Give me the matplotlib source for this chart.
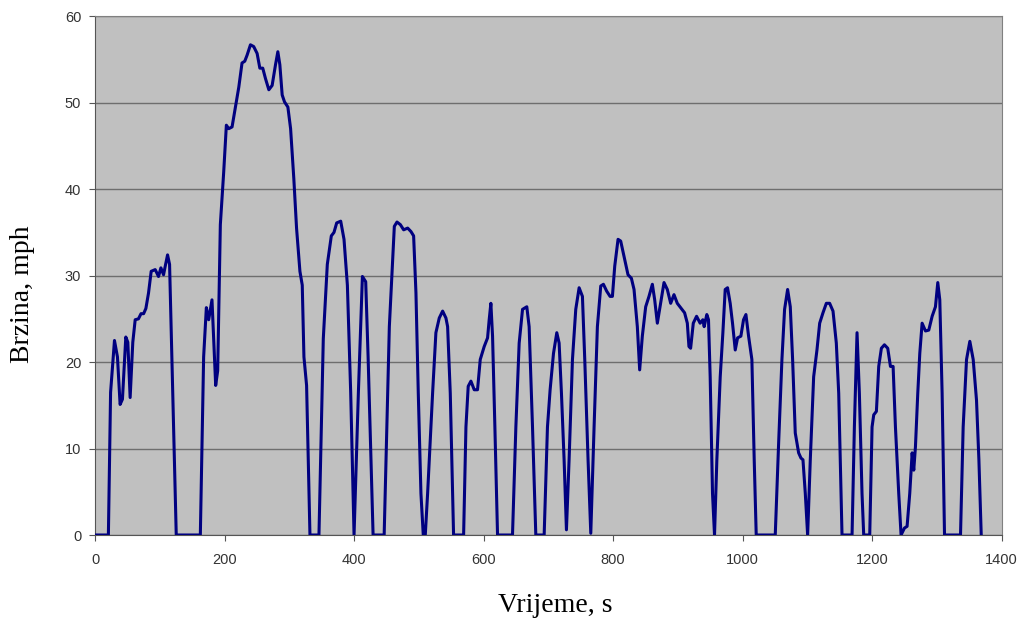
import matplotlib
matplotlib.use('Agg')
import matplotlib.pyplot as plt

# speed trace (time in s, speed in mph)
time_s = [0, 20.6, 24, 30, 34.6, 38.7, 42.3, 47.5, 50.6, 54.2, 58.3, 62, 67, 71, 75, 78.5,
          82.6, 86.7, 92.9, 98, 101.7, 105.8, 108.4, 112, 115.1, 125.4, 162.6, 167.7, 171.9,
          175.5, 178, 180.6, 183.2, 186.3, 189.4, 193.5, 198.7, 202.8, 206.5, 211.6, 216.8,
          222, 227, 231.2, 234.8, 240, 245, 250.3, 254.5, 259, 263.2, 268.4, 273.5, 278.7,
          282.3, 285.4, 289, 292.6, 297.8, 302, 307, 311.2, 316.4, 320, 322.6, 326.7, 331.9,
          345.8, 352.5, 358.7, 364.9, 369, 373.2, 379.4, 384.5, 389.7, 394.8, 400, 406.7,
          412.9, 418, 421.7, 429.4, 446.5, 454.5, 462.2, 466.3, 471.5, 476.6, 482.8, 487.9,
          492, 495.6, 499.2, 503.3, 506.9, 510, 513.6, 521.3, 526.4, 531.6, 536.8, 541.9,
          544.5, 548.6, 552.2, 553.7, 569.2, 572.8, 576.3, 580.5, 585.6, 590.7, 594.9, 601,
          606.2, 608.7, 611.3, 613.9, 617.5, 621.6, 644.7, 649.9, 655, 660.2, 666.8, 670.4,
          675.6, 680.7, 693.6, 698.7, 702.8, 708, 713.1, 716.7, 720.3, 724.4, 728, 732.1,
          737.3, 742.4, 747.6, 752.7, 756.3, 761.4, 765.6, 770.7, 775.8, 781, 785.1, 790.2,
          795.4, 799, 802.6, 807.7, 811.8, 817, 823.1, 828.3, 832.4, 837.5, 841.1, 845.2,
          850.4, 855.5, 860.7, 864.3, 868.4, 873.5, 878.7, 883.8, 889, 894.1, 899.2, 904.4,
          910.5, 914.7, 917.2, 919.8, 923.9, 929, 934.5, 938.7, 940.7, 944.8, 947.4, 950,
          953.6, 956.7, 960.3, 965.5, 969.6, 973.2, 976.8, 980.9, 984.5, 988.7, 992.3, 997.4,
          1001.5, 1005.2, 1009.3, 1014.4, 1018, 1021.1, 1050.5, 1055.7, 1060.8, 1064.9,
          1069.6, 1073.7, 1077.3, 1081.4, 1086.6, 1090.2, 1093.3, 1096.9, 1100.5, 1104.6,
          1109.8, 1114.9, 1119.1, 1124.2, 1129.4, 1134.5, 1139.7, 1144.8, 1148.5, 1152.1,
          1153.6, 1169.1, 1172.7, 1176.8, 1180.4, 1184.5, 1187.1, 1196.4, 1200, 1202.6,
          1206.7, 1210.3, 1214.4, 1219.1, 1224.2, 1228.4, 1232.5, 1236.1, 1241.2, 1244.8,
          1250, 1254.1, 1258.2, 1261.9, 1264.4, 1267, 1270.6, 1273.7, 1277.3, 1282.5, 1287.6,
          1292.8, 1297.9, 1301.5, 1304.6, 1308.2, 1311.9, 1336.6, 1340.7, 1345.9, 1351,
          1356.2, 1361.3, 1365, 1368.6]
speed_mph = [0, 0, 16.5, 22.5, 20.6, 15.1, 15.7, 22.9, 22.3, 15.9, 22.3, 24.9, 25, 25.6, 25.6,
             26.2, 28, 30.5, 30.7, 29.9, 30.9, 30.1, 31.1, 32.4, 31.3, 0, 0, 20.6, 26.3, 24.9,
             26, 27.2, 22.7, 17.3, 19, 35.9, 42, 47.4, 47, 47.2, 49.5, 51.8, 54.6, 54.8, 55.5,
             56.7, 56.5, 55.7, 54, 54, 52.8, 51.5, 52, 54.4, 55.9, 54.4, 50.9, 50.1, 49.5, 47,
             41.2, 35.5, 30.5, 28.9, 20.6, 17.3, 0, 0, 22.7, 31.3, 34.6, 35, 36.1, 36.3, 34.2,
             28.9, 16.5, 0, 16.5, 29.9, 29.3, 20.6, 0, 0, 24.1, 35.7, 36.2, 35.9, 35.3, 35.5,
             35.1, 34.6, 28, 16.4, 4.8, 0, 0, 4.8, 16.4, 23.4, 25.1, 25.9, 25.1, 24.1, 16.4,
             4.8, 0, 0, 12.5, 17.2, 17.8, 16.8, 16.8, 20.3, 21.8, 22.8, 24.9, 26.8, 23, 12.5,
             0, 0, 12.5, 22.2, 26.1, 26.4, 24.1, 12.5, 0, 0, 12.5, 16.8, 21, 23.4, 22.2, 16.4,
             8.7, 0.6, 8.7, 20.3, 26.1, 28.6, 27.6, 20.3, 8.7, 0.2, 12.5, 24.1, 28.8, 29,
             28.2, 27.6, 27.6, 31.1, 34.2, 34, 32.2, 30.1, 29.7, 28.4, 24.1, 19.1, 23, 26.4,
             27.6, 29, 27.2, 24.5, 26.8, 29.2, 28.4, 26.8, 27.8, 26.8, 26.3, 25.7, 24.5, 21.8,
             21.6, 24.5, 25.3, 24.5, 24.9, 24.1, 25.5, 24.9, 18.3, 4.8, 0, 8.7, 18.3, 23.4,
             28.4, 28.6, 26.8, 24.5, 21.4, 22.8, 23, 24.9, 25.5, 23, 20.3, 8.7, 0, 0, 10.6,
             20.3, 26.1, 28.4, 26.4, 20.3, 11.8, 9.5, 8.9, 8.7, 4.8, 0, 8.7, 18.3, 21.4, 24.5,
             25.7, 26.8, 26.8, 25.9, 22.2, 16.4, 4.8, 0, 0, 12.5, 23.4, 16.4, 4.8, 0, 0, 12.5,
             13.9, 14.3, 19.5, 21.6, 22, 21.6, 19.5, 19.5, 12.5, 4.8, 0, 0.8, 1, 4.8, 9.5, 7.5,
             10.2, 16.4, 21, 24.5, 23.6, 23.7, 25.3, 26.4, 29.2, 27.2, 16.4, 0, 0, 12.5, 20.3,
             22.4, 20.3, 15.6, 8.7, 0]

x_ticks = [0, 200, 400, 600, 800, 1000, 1200, 1400]
y_ticks = [0, 10, 20, 30, 40, 50, 60]

fig = plt.figure(figsize=(10.22, 6.19), dpi=100)
ax = fig.add_axes([0.093, 0.1357, 0.887, 0.838])
ax.set_facecolor('#c0c0c0')

ax.plot(time_s, speed_mph, color='#000080', linewidth=2.2, solid_joinstyle='round', zorder=3)

ax.set_xlim(0, 1400)
ax.set_ylim(0, 60)
ax.set_xticks(x_ticks)
ax.set_yticks(y_ticks)
ax.yaxis.grid(True, color='#6e6e6e', linewidth=1.0)
ax.set_axisbelow(True)

for side in ['left', 'bottom']:
    ax.spines[side].set_color('#555555')
for side in ['top', 'right']:
    ax.spines[side].set_color('#808080')
ax.tick_params(axis='both', direction='out', length=4, color='#555555',
               labelsize=10.5, labelcolor='#333333')
ax.tick_params(axis='x', pad=9)
ax.tick_params(axis='y', pad=6)
for lbl in ax.get_xticklabels() + ax.get_yticklabels():
    lbl.set_family('Liberation Sans')

# axis titles, placed as in the reference
fig.text(0.543, 0.012, 'Vrijeme, s', family='Liberation Serif', fontsize=20,
         ha='center', va='baseline')
fig.text(0.022, 0.525, 'Brzina, mph', family='Liberation Serif', fontsize=20,
         rotation=90, ha='center', va='center')

fig.savefig('out.png', dpi=100)
